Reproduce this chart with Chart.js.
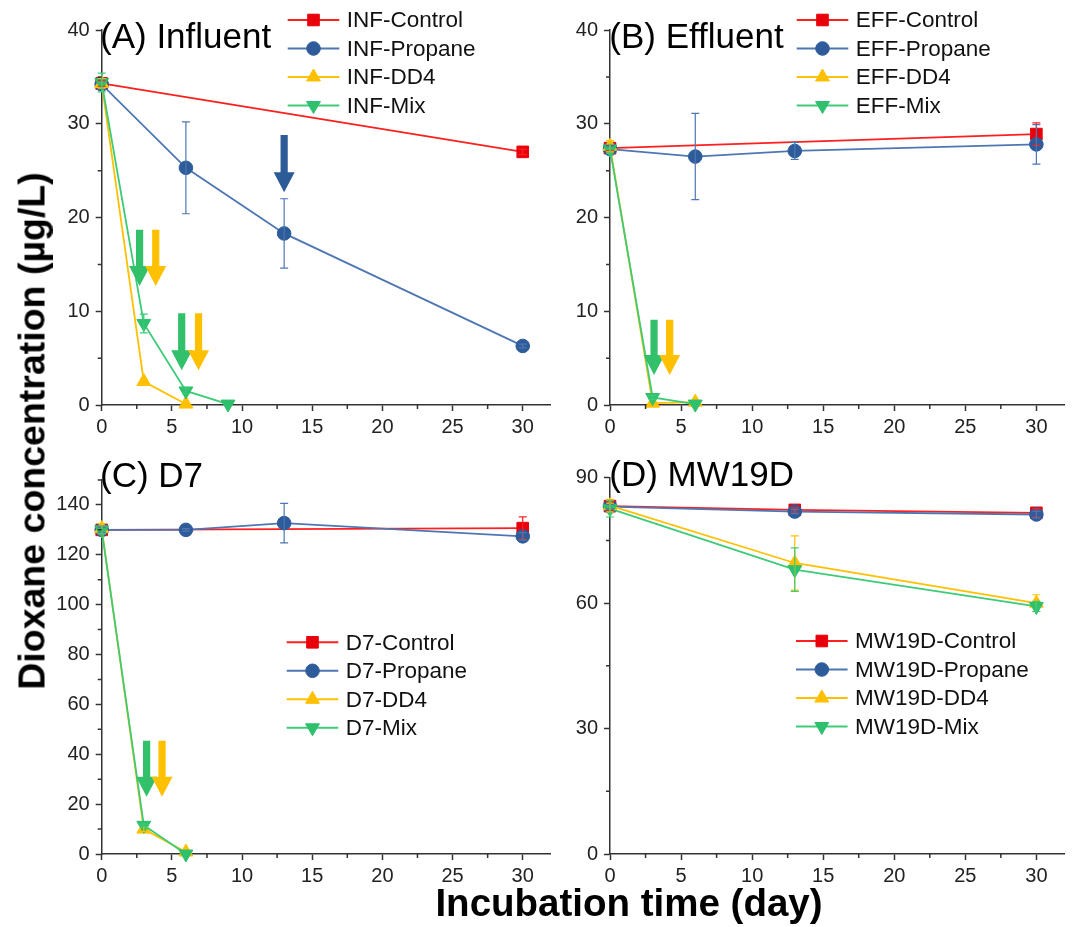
<!DOCTYPE html>
<html>
<head>
<meta charset="utf-8">
<script src="https://cdn.jsdelivr.net/npm/chart.js@4.4.1/dist/chart.umd.min.js"></script>
<style>
  body { margin: 0; background: #fff; }
  #wrap { position: relative; width: 1074px; height: 927px; overflow: hidden; font-family: "Liberation Sans", Arial, sans-serif; }
  canvas { position: absolute; }
  .ytitle { position: absolute; left: 32px; top: 431px; transform: translate(-50%, -50%) rotate(-90deg);
            font-weight: bold; font-size: 37.5px; line-height: 37px; white-space: nowrap; color: #000; }
  .xtitle { position: absolute; left: 629px; top: 884px; transform: translateX(-50%);
            font-weight: bold; font-size: 38.5px; line-height: 37px; white-space: nowrap; color: #000; }
</style>
</head>
<body>
<div id="wrap">
  <canvas id="cA" width="560" height="445" style="left:0;top:0"></canvas>
  <canvas id="cB" width="514" height="445" style="left:560px;top:0"></canvas>
  <canvas id="cC" width="560" height="482" style="left:0;top:445px"></canvas>
  <canvas id="cD" width="514" height="482" style="left:560px;top:445px"></canvas>
  <div class="ytitle">Dioxane concentration (µg/L)</div>
  <div class="xtitle">Incubation time (day)</div>
</div>
<script>
// (A) Influent
const infControlDay = [0, 30];
const infControl = [34.3, 27.0];
const infControlErr = [0.3, 0.3];
const infPropaneDay = [0, 6, 13, 30];
const infPropane = [34.2, 25.3, 18.3, 6.3];
const infPropaneErr = [0.5, 4.9, 3.7, 0.2];
const infDD4Day = [0, 3, 6];
const infDD4 = [34.3, 2.5, 0.1];
const infDD4Err = [0.5, 0.3, 0];
const infMixDay = [0, 3, 6, 9];
const infMix = [34.4, 8.7, 1.5, 0.1];
const infMixErr = [1.0, 1.0, 0.3, 0];

// (B) Effluent
const effControlDay = [0, 30];
const effControl = [27.4, 28.9];
const effControlErr = [0.3, 1.2];
const effPropaneDay = [0, 6, 13, 30];
const effPropane = [27.3, 26.5, 27.1, 27.8];
const effPropaneErr = [0.3, 4.6, 0.9, 2.1];
const effDD4Day = [0, 3, 6];
const effDD4 = [27.6, 0.2, 0.3];
const effDD4Err = [0.6, 0, 0];
const effMixDay = [0, 3, 6];
const effMix = [27.3, 0.8, 0.1];
const effMixErr = [0.5, 0.2, 0];

// (C) D7
const d7ControlDay = [0, 30];
const d7Control = [130, 130.7];
const d7ControlErr = [1.5, 4.5];
const d7PropaneDay = [0, 6, 13, 30];
const d7Propane = [130, 130, 132.7, 127.4];
const d7PropaneErr = [1.0, 0.5, 7.9, 1.5];
const d7DD4Day = [0, 3, 6];
const d7DD4 = [130.5, 10, 0.8];
const d7DD4Err = [2.0, 1.0, 0];
const d7MixDay = [0, 3, 6];
const d7Mix = [130, 11.5, 0];
const d7MixErr = [1.5, 0.5, 0];

// (D) MW19D
const mwControlDay = [0, 13, 30];
const mwControl = [83.2, 82.3, 81.6];
const mwControlErr = [1.0, 0.5, 1.0];
const mwPropaneDay = [0, 13, 30];
const mwPropane = [83.1, 81.9, 81.2];
const mwPropaneErr = [0.5, 0.5, 0.8];
const mwDD4Day = [0, 13, 30];
const mwDD4 = [83.3, 69.6, 60.0];
const mwDD4Err = [1.5, 6.5, 2.0];
const mwMixDay = [0, 13, 30];
const mwMix = [82.6, 68.0, 59.2];
const mwMixErr = [2.0, 5.2, 1.2];

// arrows: day, top value, tip value, colour key
const infArrowDay = [13, 2.7, 3.85, 5.7, 6.9];
const infArrowTop = [28.8, 18.7, 18.7, 9.8, 9.8];
const infArrowTip = [22.7, 12.7, 12.7, 3.7, 3.7];
const infArrowKind = ['Propane', 'Mix', 'DD4', 'Mix', 'DD4'];
const effArrowDay = [3.1, 4.2];
const effArrowTop = [9.1, 9.1];
const effArrowTip = [3.2, 3.2];
const effArrowKind = ['Mix', 'DD4'];
const d7ArrowDay = [3.2, 4.3];
const d7ArrowTop = [45.4, 45.4];
const d7ArrowTip = [23, 23];
const d7ArrowKind = ['Mix', 'DD4'];

// tick labels
const xTickValues = [0, 5, 10, 15, 20, 25, 30];
const xMinorValues = [2.5, 7.5, 12.5, 17.5, 22.5, 27.5];
const yTicksInf = [0, 10, 20, 30, 40];
const yMinorInf = [5, 15, 25, 35];
const yTicksD7 = [0, 20, 40, 60, 80, 100, 120, 140];
const yMinorD7 = [10, 30, 50, 70, 90, 110, 130, 150];
const yTicksMw = [0, 30, 60, 90];
const yMinorMw = [15, 45, 75];

const FONT = '"Liberation Sans", Arial, sans-serif';
const AXIS = '#333';

const styles = {
  Control: { line: '#FF1F1F', fill: '#E8000B', point: 'rect', radius: 8.2, rot: 0, order: 3, arrow: '#E8000B' },
  Propane: { line: '#4E76B2', fill: '#2E5C9A', point: 'circle', radius: 6.8, rot: 0, order: 2, arrow: '#2D5B98' },
  DD4: { line: '#FFC000', fill: '#FFC000', point: 'triangle', radius: 8, rot: 0, order: 1, arrow: '#FFC000' },
  Mix: { line: '#3DCB78', fill: '#2EC06C', point: 'triangle', radius: 8, rot: 180, order: 0, arrow: '#33C06B' }
};

const panels = [
  { id: 'cA', prefix: 'INF', title: '(A) Influent', titleX: 100, titleY: 48,
    yMax: 40, yTicks: yTicksInf, yMinor: yMinorInf, yWidth: 101.7, padTop: 30, padRight: 0.7, xHeight: 40,
    legX: 287.7, legY: 20,
    series: { Control: [infControlDay, infControl, infControlErr], Propane: [infPropaneDay, infPropane, infPropaneErr],
              DD4: [infDD4Day, infDD4, infDD4Err], Mix: [infMixDay, infMix, infMixErr] },
    arrows: [infArrowDay, infArrowTop, infArrowTip, infArrowKind] },
  { id: 'cB', prefix: 'EFF', title: '(B) Effluent', titleX: 49.3, titleY: 48,
    yMax: 40, yTicks: yTicksInf, yMinor: yMinorInf, yWidth: 50, padTop: 30, padRight: 5.4, xHeight: 40,
    legX: 236.7, legY: 20,
    series: { Control: [effControlDay, effControl, effControlErr], Propane: [effPropaneDay, effPropane, effPropaneErr],
              DD4: [effDD4Day, effDD4, effDD4Err], Mix: [effMixDay, effMix, effMixErr] },
    arrows: [effArrowDay, effArrowTop, effArrowTip, effArrowKind] },
  { id: 'cC', prefix: 'D7', title: '(C) D7', titleX: 100, titleY: 41.7,
    yMax: 150, yTicks: yTicksD7, yMinor: yMinorD7, yWidth: 101.7, padTop: 35, padRight: 0.7, xHeight: 73,
    legX: 286.7, legY: 197.3,
    series: { Control: [d7ControlDay, d7Control, d7ControlErr], Propane: [d7PropaneDay, d7Propane, d7PropaneErr],
              DD4: [d7DD4Day, d7DD4, d7DD4Err], Mix: [d7MixDay, d7Mix, d7MixErr] },
    arrows: [d7ArrowDay, d7ArrowTop, d7ArrowTip, d7ArrowKind] },
  { id: 'cD', prefix: 'MW19D', title: '(D) MW19D', titleX: 49.3, titleY: 41,
    yMax: 90, yTicks: yTicksMw, yMinor: yMinorMw, yWidth: 50, padTop: 32.7, padRight: 5.4, xHeight: 73,
    legX: 236, legY: 196,
    series: { Control: [mwControlDay, mwControl, mwControlErr], Propane: [mwPropaneDay, mwPropane, mwPropaneErr],
              DD4: [mwDD4Day, mwDD4, mwDD4Err], Mix: [mwMixDay, mwMix, mwMixErr] },
    arrows: null }
];

function drawMarker(ctx, st, x, y) {
  ctx.save();
  ctx.fillStyle = st.fill;
  ctx.strokeStyle = st.fill;
  Chart.helpers.drawPoint(ctx, { pointStyle: st.point, rotation: st.rot, radius: st.radius, borderWidth: 1 }, x, y);
  ctx.restore();
}

function makePlugin(panel) {
  return {
    id: 'panelExtras',
    afterDatasetsDraw(chart) {
      const ctx = chart.ctx, xs = chart.scales.x, ys = chart.scales.y;
      // error bars
      Object.keys(panel.series).forEach(k => {
        const [days, vals, errs] = panel.series[k];
        ctx.save();
        ctx.strokeStyle = styles[k].line;
        ctx.lineWidth = 1.2;
        days.forEach((d, i) => {
          const e = errs[i];
          if (!e) return;
          const px = xs.getPixelForValue(d);
          const t = ys.getPixelForValue(vals[i] + e), b = ys.getPixelForValue(vals[i] - e);
          ctx.beginPath();
          ctx.moveTo(px, t); ctx.lineTo(px, b);
          ctx.moveTo(px - 4, t); ctx.lineTo(px + 4, t);
          ctx.moveTo(px - 4, b); ctx.lineTo(px + 4, b);
          ctx.stroke();
        });
        ctx.restore();
      });
      // arrows
      if (panel.arrows) {
        const [ad, at, tip, kind] = panel.arrows;
        ad.forEach((d, i) => {
          const px = xs.getPixelForValue(d);
          const y0 = ys.getPixelForValue(at[i]), y1 = ys.getPixelForValue(tip[i]);
          const head = 20, half = 10.5, shaft = 3.6;
          ctx.save();
          ctx.fillStyle = styles[kind[i]].arrow;
          ctx.beginPath();
          ctx.moveTo(px - shaft, y0);
          ctx.lineTo(px + shaft, y0);
          ctx.lineTo(px + shaft, y1 - head);
          ctx.lineTo(px + half, y1 - head);
          ctx.lineTo(px, y1);
          ctx.lineTo(px - half, y1 - head);
          ctx.lineTo(px - shaft, y1 - head);
          ctx.closePath();
          ctx.fill();
          ctx.restore();
        });
      }
    },
    afterDraw(chart) {
      const ctx = chart.ctx, xs = chart.scales.x, ys = chart.scales.y;
      const area = chart.chartArea;
      // minor ticks
      ctx.save();
      ctx.strokeStyle = AXIS;
      ctx.lineWidth = 1.5;
      ctx.beginPath();
      xMinorValues.forEach(v => {
        const px = xs.getPixelForValue(v);
        ctx.moveTo(px, area.bottom); ctx.lineTo(px, area.bottom + 4);
      });
      panel.yMinor.forEach(v => {
        const py = ys.getPixelForValue(v);
        ctx.moveTo(area.left, py); ctx.lineTo(area.left - 4, py);
      });
      ctx.stroke();
      ctx.restore();
      // panel title
      ctx.save();
      ctx.fillStyle = '#000';
      ctx.font = '35px ' + FONT;
      ctx.textBaseline = 'alphabetic';
      ctx.fillText(panel.title, panel.titleX, panel.titleY);
      ctx.restore();
      // legend
      const rowH = 28.5;
      Object.keys(panel.series).forEach((k, i) => {
        const st = styles[k];
        const y = panel.legY + i * rowH;
        ctx.save();
        ctx.strokeStyle = st.line;
        ctx.lineWidth = 2;
        ctx.beginPath();
        ctx.moveTo(panel.legX, y); ctx.lineTo(panel.legX + 51.6, y);
        ctx.stroke();
        ctx.restore();
        drawMarker(ctx, st, panel.legX + 25.8, y);
        ctx.save();
        ctx.fillStyle = '#111';
        ctx.font = '22.5px ' + FONT;
        ctx.textBaseline = 'middle';
        ctx.fillText(panel.prefix + '-' + k, panel.legX + 59, y + 1);
        ctx.restore();
      });
    }
  };
}

panels.forEach(panel => {
  const datasets = Object.keys(panel.series).map(k => {
    const [days, vals] = panel.series[k];
    const st = styles[k];
    return {
      label: panel.prefix + '-' + k,
      data: days.map((d, i) => ({ x: d, y: vals[i] })),
      borderColor: st.line,
      backgroundColor: st.fill,
      borderWidth: 1.8,
      pointStyle: st.point,
      pointRotation: st.rot,
      pointRadius: st.radius,
      pointBackgroundColor: st.fill,
      pointBorderColor: st.fill,
      pointBorderWidth: 1,
      tension: 0,
      clip: false,
      order: st.order
    };
  });
  const tickFont = { family: FONT, size: 20 };
  new Chart(document.getElementById(panel.id).getContext('2d'), {
    type: 'line',
    data: { datasets },
    plugins: [makePlugin(panel)],
    options: {
      responsive: false,
      animation: false,
      devicePixelRatio: 1,
      layout: { padding: { top: panel.padTop, right: panel.padRight, left: 0, bottom: 0 } },
      plugins: { legend: { display: false }, tooltip: { enabled: false }, title: { display: false } },
      scales: {
        x: {
          type: 'linear', min: 0, max: 32,
          ticks: { font: tickFont, color: '#222', padding: 4, maxRotation: 0, autoSkip: false },
          grid: { drawOnChartArea: false, tickLength: 6, tickColor: AXIS, tickWidth: 1.5 },
          border: { color: AXIS, width: 1.5 },
          afterBuildTicks: s => { s.ticks = xTickValues.map(v => ({ value: v })); },
          afterFit: s => { s.height = panel.xHeight; }
        },
        y: {
          type: 'linear', min: 0, max: panel.yMax,
          ticks: { font: tickFont, color: '#222', padding: 6, autoSkip: false },
          grid: { drawOnChartArea: false, tickLength: 6, tickColor: AXIS, tickWidth: 1.5 },
          border: { color: AXIS, width: 1.5 },
          afterBuildTicks: s => { s.ticks = panel.yTicks.map(v => ({ value: v })); },
          afterFit: s => { s.width = panel.yWidth; }
        }
      }
    }
  });
});
</script>
</body>
</html>
